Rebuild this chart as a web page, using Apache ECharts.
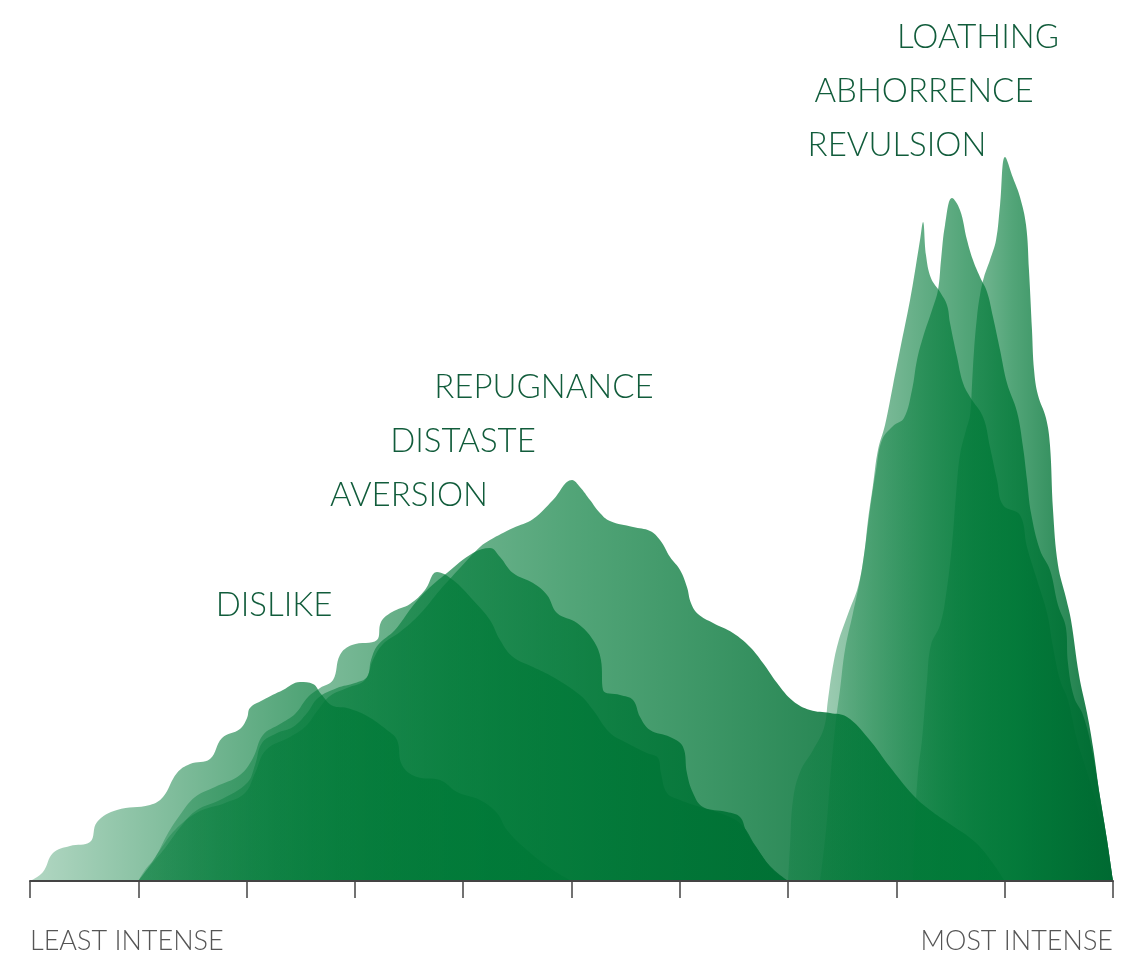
<!DOCTYPE html>
<html>
<head>
<meta charset="utf-8">
<script src="https://cdn.jsdelivr.net/npm/echarts@6/dist/echarts.min.js"></script>
<style>
html,body{margin:0;padding:0;background:#fff;}
#chart{width:1133px;height:972px;}
</style>
</head>
<body>
<div id="chart"></div>
<script>
// Intensity axis 0..100, height 0..800
const xTicks = [0,10,20,30,40,50,60,70,80,90,100];
const axisEndLabels = ['LEAST INTENSE', 'MOST INTENSE'];
const emotions = ['DISLIKE','AVERSION','DISTASTE','REPUGNANCE','REVULSION','ABHORRENCE','LOATHING'];

const dislike = [[0,0],[1.2,9],[2.12,28],[3.69,35],[5.54,39],[6.19,59],[8.03,71],[11.08,76],[12.28,84],[13.57,108],[14.77,117],[16.62,122],[17.73,143],[19.39,152],[20.04,163],[20.31,173],[21.51,181],[23.36,191],[24.93,199],[26.13,197],[26.87,187],[27.98,175],[29.27,173],[31.12,165],[32.96,151],[33.89,141],[34.35,116],[35.73,104],[37.86,101],[39.43,89],[41.55,81],[43.12,68],[44.04,51],[45.89,31],[48.29,11],[50,0]];

const aversion = [[10,0],[10.62,11],[11.54,23],[12.65,46],[13.85,66],[15.24,84],[17.08,94],[19.39,106],[20.59,123],[21.51,146],[23.08,157],[24.47,167],[25.67,184],[26.78,193],[27.98,201],[28.62,226],[29.73,236],[32.04,241],[32.41,259],[33.43,269],[35.09,277],[36.47,291],[37.58,309],[39.06,301],[40.9,281],[42.47,261],[43.4,241],[44.6,224],[46.45,214],[48.29,204],[50.78,186],[51.99,171],[53.56,148],[55.12,138],[56.97,128],[57.99,123],[58.26,108],[58.82,88],[60.02,81],[61.87,74],[64.17,66],[65.74,56],[66.94,36],[68.33,15],[70,0]];

const distaste = [[10,0],[11.08,15],[12.47,33],[14.04,56],[15.42,71],[17.54,81],[20.04,98],[20.78,116],[21.42,138],[22.81,148],[24.28,154],[25.58,168],[26.59,183],[28.35,193],[30.01,198],[31.12,204],[31.49,221],[32.13,236],[33.7,251],[35.27,274],[36.66,291],[38.5,308],[40.9,328],[42.47,333],[43.4,324],[44.6,308],[46.45,298],[47.74,286],[48.66,268],[50.51,258],[51.99,241],[52.72,221],[52.91,191],[54.48,186],[55.68,181],[56.33,164],[57.25,151],[59.1,144],[60.3,134],[60.66,108],[61.22,88],[62.14,74],[64.36,69],[65.56,64],[66.2,48],[67.41,28],[68.61,11],[70,0]];

const repugnance = [[10,0],[10.9,13],[12,31],[13.39,51],[15.51,69],[18.01,78],[19.85,88],[20.78,108],[21.79,131],[24.01,144],[25.48,155],[26.59,171],[27.7,185],[29.27,193],[30.93,201],[31.67,221],[32.59,237],[34.16,249],[36.01,267],[37.86,291],[39.7,313],[41.55,334],[42.47,341],[44.6,353],[46.45,362],[48.29,381],[50.05,401],[50.78,394],[51.71,381],[52.63,368],[53.55,360],[55.68,354],[57.25,350],[58.17,341],[59.1,324],[60.02,311],[60.66,294],[61.03,278],[61.68,267],[63.07,258],[64.91,248],[66.48,234],[67.68,218],[68.98,198],[70.45,180],[72.02,171],[73.87,168],[75.44,164],[77.38,143],[79.41,114],[81.53,86],[83.1,71],[84.95,57],[87.26,39],[88.83,19],[90,0]];

const revulsion = [[70,0],[70.18,36],[70.45,81],[71.1,109],[72.3,131],[73.31,153],[73.68,181],[74.05,209],[74.61,238],[75.53,267],[76.45,294],[77.01,326],[77.38,361],[77.84,396],[78.3,431],[78.95,456],[79.69,496],[80.33,531],[81.26,581],[81.81,616],[82.18,641],[82.46,659],[82.73,626],[83.19,603],[84.03,589],[84.67,576],[84.95,558],[85.6,524],[86.15,498],[86.8,484],[88.0,464],[88.64,434],[89.29,401],[89.84,376],[91.41,366],[92.06,334],[92.99,301],[93.91,268],[94.46,234],[95.11,201],[95.84,181],[96.68,141],[97.69,106],[98.61,71],[99.35,36],[100,0]];

const abhorrence = [[72.95,0],[73.5,51],[73.96,111],[74.42,161],[74.79,191],[75.25,231],[75.99,268],[76.64,301],[77.1,333],[77.56,371],[78.12,411],[78.67,441],[79.69,455],[80.7,463],[81.44,491],[81.9,521],[82.46,544],[83.29,571],[83.84,591],[84.12,621],[84.49,656],[85.13,683],[85.87,671],[86.52,641],[87.07,621],[87.72,604],[88.37,589],[88.92,564],[89.57,531],[90.21,498],[91.14,469],[91.69,434],[92.06,401],[92.43,368],[93.26,331],[94.18,311],[94.92,276],[95.66,253],[95.84,218],[96.4,184],[97.23,166],[98.06,131],[98.8,84],[99.45,41],[100,0]];

const loathing = [[81.53,0],[81.72,61],[82.0,109],[82.36,141],[82.83,201],[83.19,236],[84.03,256],[84.58,286],[85.13,336],[85.5,386],[85.87,426],[86.43,451],[86.8,466],[86.98,496],[87.17,531],[87.44,564],[87.72,586],[88.09,604],[88.64,621],[89.2,641],[89.57,676],[90.03,724],[90.77,703],[91.41,684],[91.97,656],[92.24,611],[92.52,551],[92.71,511],[93.07,486],[93.81,463],[94.18,436],[94.46,371],[94.92,316],[95.66,283],[96.12,261],[96.86,206],[97.6,168],[98.15,134],[98.8,84],[99.45,41],[100,0]];

const seriesData = [dislike, aversion, distaste, repugnance, revulsion, abhorrence, loathing];

function grad(){
  return {type:'linear',x:0,y:0,x2:1,y2:0,colorStops:[
    {offset:0,color:'rgba(0,122,56,0.30)'},
    {offset:0.5,color:'rgba(0,122,56,0.68)'},
    {offset:1,color:'rgba(0,106,50,0.95)'}
  ]};
}

const chart = echarts.init(document.getElementById('chart'), null, {renderer:'canvas'});

const labelPos = [[274,605],[409,495],[463,441],[544,387],[897,145],[924,91],[978,37]];
const graphics = emotions.map((name,i)=>({
  type:'text', x:labelPos[i][0], y:labelPos[i][1], z:100,
  style:{text:name, fill:'#115c3b', font:'300 33px Lato, "Open Sans", sans-serif', align:'center', verticalAlign:'middle'}
}));
graphics.push({type:'text', x:30, y:941, z:100,
  style:{text:axisEndLabels[0], fill:'#555', font:'300 27px Lato, "Open Sans", sans-serif', align:'left', verticalAlign:'middle'}});
graphics.push({type:'text', x:1113, y:941, z:100,
  style:{text:axisEndLabels[1], fill:'#555', font:'300 27px Lato, "Open Sans", sans-serif', align:'right', verticalAlign:'middle'}});

chart.setOption({
  animation:false,
  backgroundColor:'#fff',
  grid:{left:30,right:20,top:81,bottom:91},
  xAxis:{type:'value',min:xTicks[0],max:xTicks[xTicks.length-1],interval:xTicks[1]-xTicks[0],
    axisLine:{show:true,lineStyle:{color:'#444',width:2}},
    axisTick:{show:true,length:17,lineStyle:{color:'#444',width:1.5}},
    axisLabel:{show:false}, splitLine:{show:false}, z:10},
  yAxis:{type:'value',min:0,max:800,show:false,splitLine:{show:false}},
  series: seriesData.map((d,i)=>({
    name:emotions[i], type:'line', data:d, smooth:0.4,
    showSymbol:false, symbol:'none', lineStyle:{width:0},
    areaStyle:{color:grad(), opacity:1, origin:'start'}, z:2
  })),
  graphic: graphics
});
</script>
</body>
</html>
